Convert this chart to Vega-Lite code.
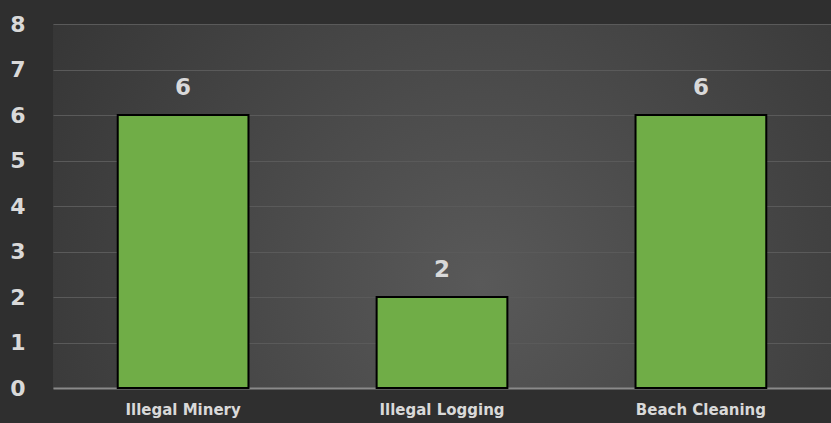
{
  "$schema": "https://vega.github.io/schema/vega-lite/v6.json",
  "width": 778,
  "height": 364,
  "autosize": "none",
  "padding": {"left": 53, "top": 24, "right": 0, "bottom": 35},
  "background": "#2f2f2f",
  "config": {
    "view": {
      "stroke": null,
      "fill": {
        "gradient": "radial",
        "x1": 0.55, "y1": 0.6, "r1": 0,
        "x2": 0.55, "y2": 0.6, "r2": 0.8,
        "stops": [
          {"offset": 0, "color": "#595959"},
          {"offset": 1, "color": "#2e2e2e"}
        ]
      }
    },
    "font": "DejaVu Sans"
  },
  "data": {
    "values": [
      {"category": "Illegal Minery", "value": 6},
      {"category": "Illegal Logging", "value": 2},
      {"category": "Beach Cleaning", "value": 6}
    ]
  },
  "encoding": {
    "x": {
      "field": "category",
      "type": "nominal",
      "sort": null,
      "scale": {"paddingInner": 0.495, "paddingOuter": 0.25},
      "axis": {
        "title": null,
        "labelAngle": 0,
        "ticks": false,
        "domain": true,
        "domainColor": "#8a8a8a",
        "domainWidth": 2,
        "labelColor": "#d9d9d9",
        "labelFontSize": 15,
        "labelFontWeight": "bold",
        "labelPadding": 14,
        "labelFont": "DejaVu Sans"
      }
    },
    "y": {
      "field": "value",
      "type": "quantitative",
      "scale": {"domain": [0, 8]},
      "axis": {
        "title": null,
        "values": [0, 1, 2, 3, 4, 5, 6, 7, 8],
        "labelOverlap": false,
        "ticks": false,
        "domain": false,
        "grid": true,
        "gridColor": "#5a5a5a",
        "gridWidth": 1,
        "labelColor": "#d9d9d9",
        "labelFontSize": 22,
        "labelFontWeight": "bold",
        "labelPadding": 28,
        "labelFont": "DejaVu Sans"
      }
    }
  },
  "layer": [
    {
      "mark": {"type": "bar", "fill": "#70ad47", "stroke": "#000000", "strokeWidth": 2}
    },
    {
      "mark": {"type": "text", "baseline": "bottom", "dy": -15, "fontSize": 23, "fontWeight": "bold", "color": "#d9d9d9", "font": "DejaVu Sans"},
      "encoding": {"text": {"field": "value", "type": "quantitative"}}
    }
  ]
}
